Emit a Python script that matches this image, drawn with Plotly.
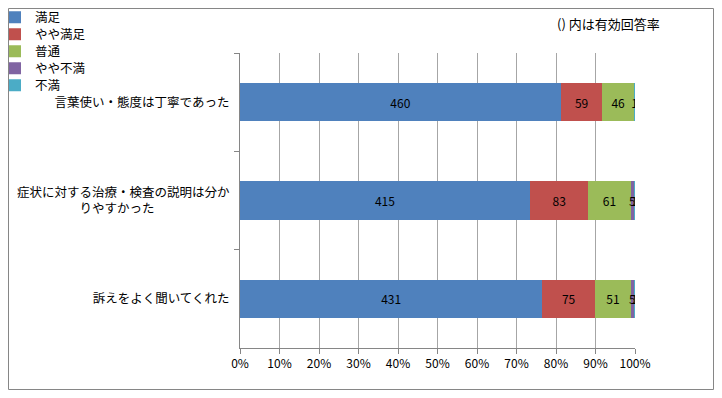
import plotly.graph_objects as go

categories = ["言葉使い・態度は丁寧であった",
              "症状に対する治療・検査の説明は分か<br>りやすかった　　　　　　",
              "訴えをよく聞いてくれた"]
series_names = ["満足", "やや満足", "普通", "やや不満", "不満"]
manzoku = [460, 415, 431]
yaya_manzoku = [59, 83, 75]
futsu = [46, 61, 51]
yaya_fuman = [0, 5, 5]
fuman = [1, 1, 1]
valid_rates = ["（97.9%）", "（97.6%）", "（97.2%）"]
x_ticks = list(range(0, 101, 10))
x_tick_labels = [f"{v}%" for v in x_ticks]

colors = ["#4F81BD", "#C0504D", "#9BBB59", "#8064A2", "#4BACC6"]
FONT = "Noto Sans CJK JP, sans-serif"

# page offset (browser body margin) and plot-area geometry in page pixels
OFF = 8
PL, PR, PT, PB = 240, 635, 53, 348
W, H = 722 - 2 * OFF, 398 - 2 * OFF


def px(page_x):
    return (page_x - PL) / (PR - PL)


def py(page_y):
    return (PB - page_y) / (PB - PT)


legend_ids = ["legend", "legend2", "legend3", "legend4", "legend5"]
legend_rows = [17.5, 34.5, 51.5, 68.5, 85.5]

fig = go.Figure()
for name, vals, col, lid in zip(series_names,
                                [manzoku, yaya_manzoku, futsu, yaya_fuman, fuman],
                                colors, legend_ids):
    fig.add_trace(go.Bar(
        y=categories, x=vals, name=name, orientation="h", legend=lid,
        marker=dict(color=col, line=dict(width=0)),
        text=[str(v) if v else "" for v in vals],
        textposition="inside", insidetextanchor="middle",
        textangle=0, constraintext="none",
        textfont=dict(color="#000000", size=12, family=FONT),
        hoverinfo="skip",
    ))

for cat, r in zip(categories, valid_rates):
    fig.add_annotation(x=110, y=cat, xref="x", yref="y", text=r,
                       showarrow=False, font=dict(size=12, color="#000000", family=FONT))

fig.add_annotation(x=px(662), y=py(23), xref="paper", yref="paper",
                   xanchor="right", yanchor="middle",
                   text="() 内は有効回答率", showarrow=False,
                   font=dict(size=13, color="#000000", family=FONT))

# outer chart border
fig.add_shape(type="rect", xref="paper", yref="paper",
              x0=px(OFF + 0.5), x1=px(OFF + W - 0.5),
              y0=py(OFF + H - 0.5), y1=py(OFF + 0.5),
              line=dict(color="#868686", width=1), layer="below")

legend_layout = {}
for lid, row in zip(legend_ids, legend_rows):
    legend_layout[lid] = dict(
        xref="paper", yref="paper", x=px(-5), y=py(row),
        xanchor="left", yanchor="middle",
        font=dict(size=12.5, family=FONT, color="#000000"),
        itemwidth=30, bgcolor="rgba(0,0,0,0)", borderwidth=0)

fig.update_layout(
    barmode="stack", barnorm="percent", bargap=0.61,
    width=W, height=H,
    margin=dict(l=PL - OFF, r=OFF + W - PR, t=PT - OFF, b=OFF + H - PB, autoexpand=False),
    paper_bgcolor="white", plot_bgcolor="white",
    font=dict(family=FONT, size=12, color="#000000"),
    showlegend=True,
    xaxis=dict(range=[0, 100], tickvals=x_ticks, ticktext=x_tick_labels,
               showgrid=True, gridcolor="#A6A6A6", gridwidth=1,
               showline=True, linecolor="#868686", linewidth=1,
               ticks="outside", ticklen=5, tickcolor="#868686",
               zeroline=False, fixedrange=True,
               tickfont=dict(size=12, family=FONT)),
    yaxis=dict(autorange="reversed", showline=True, linecolor="#868686", linewidth=1,
               ticks="outside", ticklen=5, tickcolor="#868686", tickson="boundaries",
               showgrid=False, zeroline=False, ticklabelstandoff=7,
               tickfont=dict(size=12.5, family=FONT)),
    **legend_layout,
)

fig.write_html("out.html")
